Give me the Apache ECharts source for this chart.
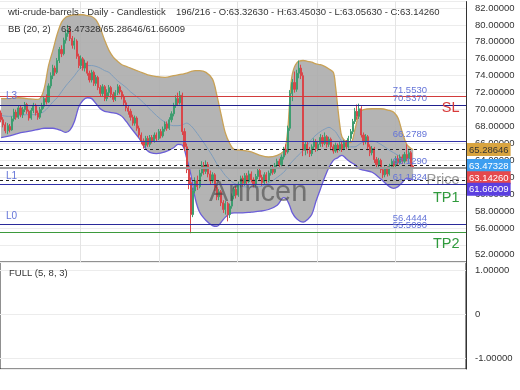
<!DOCTYPE html>
<html><head><meta charset="utf-8">
<script src="https://cdn.jsdelivr.net/npm/echarts@6/dist/echarts.min.js"></script>
<style>html,body{margin:0;padding:0;background:#fff}#c{width:520px;height:390px}</style>
</head><body><div id="c"></div>
<script>
// ---------- data ----------
const symbolName = 'wti-crude-barrels - Daily - Candlestick';
const barNo = 196, barTotal = 216;
const lastO = 63.32630, lastH = 63.45030, lastL = 63.05630, lastC = 63.14260;
const bbParams = 'BB (20, 2)';
const bbNow = [63.47328, 65.28646, 61.66009]; // mid / upper / lower
const totalSlots = 216;

const opens = [
69.6,68.8,68.2,67.5,68.0,67.6,68.9,69.7,69.1,70.2,
69.4,70.0,70.6,69.8,69.0,69.9,70.5,69.6,69.1,70.0,
70.4,71.3,70.9,72.8,74.0,74.9,74.4,75.8,77.1,76.6,
78.2,79.0,79.5,78.4,77.6,78.1,76.3,75.2,76.0,74.9,
75.5,74.3,73.5,74.4,73.1,73.8,72.6,71.9,72.7,71.3,
72.0,72.6,71.8,71.2,72.0,72.7,72.1,71.5,70.8,70.2,
69.8,69.1,68.4,69.0,67.8,67.0,66.3,65.8,66.6,65.9,
66.7,66.3,67.0,66.6,67.4,66.9,67.7,68.3,67.8,68.8,
69.5,70.5,71.3,70.8,71.7,67.4,65.6,62.9,61.4,57.6,
60.4,61.6,60.9,62.5,63.4,62.7,63.5,62.4,61.6,62.3,
60.8,59.7,60.3,59.0,58.2,58.9,57.6,58.6,59.8,60.6,
59.9,61.2,61.9,61.3,62.2,61.5,62.4,61.7,61.2,62.1,
62.8,62.0,61.4,62.3,61.6,62.5,63.1,62.6,63.4,63.9,
63.5,64.4,65.3,65.0,67.8,71.9,73.2,72.4,74.3,74.9,
74.0,65.2,65.9,65.2,64.8,65.6,66.2,65.4,65.9,66.7,
66.0,66.8,65.9,66.5,65.6,65.1,65.8,65.3,65.9,65.4,
66.1,65.6,66.6,67.4,68.6,69.8,69.2,70.1,67.0,66.2,
66.8,65.6,64.9,65.4,64.1,63.5,64.0,62.9,62.3,63.0,
62.4,63.3,63.9,63.4,64.2,63.7,64.4,63.9,64.7,64.2,
64.9,63.3263];
const closes = [
68.8,68.2,67.5,68.1,67.6,68.9,69.7,69.1,70.2,69.4,
70.0,70.6,69.8,69.0,69.9,70.5,69.6,69.1,70.0,70.4,
71.3,70.9,72.8,74.0,74.9,74.4,75.8,77.1,76.6,78.2,
79.0,79.5,78.4,77.6,78.1,76.3,75.2,76.0,74.9,75.5,
74.3,73.5,74.4,73.1,73.8,72.6,71.9,72.7,71.3,72.0,
72.6,71.8,71.2,72.0,72.7,72.1,71.5,70.8,70.2,69.8,
69.1,68.4,69.0,67.8,67.0,66.3,65.8,66.6,65.9,66.7,
66.3,67.0,66.6,67.4,66.9,67.7,68.3,67.8,68.8,69.5,
70.5,71.3,70.8,71.7,67.4,65.6,62.9,61.2,57.6,60.4,
61.6,60.9,62.5,63.4,62.7,63.5,62.4,61.6,62.3,60.8,
59.7,60.3,59.0,58.2,58.9,57.6,58.6,59.8,60.6,59.9,
61.2,61.9,61.3,62.2,61.5,62.4,61.7,61.2,62.1,62.8,
62.0,61.4,62.3,61.6,62.5,63.1,62.6,63.4,63.9,63.5,
64.4,65.3,65.0,67.8,71.9,73.2,72.4,74.3,74.9,74.0,
65.2,65.9,65.2,64.8,65.6,66.2,65.4,65.9,66.7,66.0,
66.8,65.9,66.5,65.6,65.1,65.8,65.3,65.9,65.4,66.1,
65.6,66.6,67.4,68.6,69.8,69.2,70.1,67.0,66.2,66.8,
65.6,64.9,65.4,64.1,63.5,64.0,62.9,62.3,63.0,62.4,
63.3,63.9,63.4,64.2,63.7,64.4,63.9,64.7,64.2,64.9,
63.3,63.1426];
const lows = [
68.5,67.9,67.2,67.1,67.3,67.5,68.6,68.8,68.9,69.1,
69.0,69.7,69.5,68.7,68.8,69.6,69.3,68.8,68.9,69.6,
70.1,70.6,70.8,72.5,73.6,74.0,74.2,75.5,76.2,76.4,
77.8,78.6,78.1,77.2,77.1,76.0,74.9,74.8,74.6,74.5,
74.0,73.2,73.2,72.8,72.8,72.3,71.5,71.6,71.0,71.0,
71.6,71.4,70.9,71.0,71.7,71.8,71.2,70.5,69.8,69.4,
68.7,68.1,68.1,67.5,66.7,65.9,65.4,65.5,65.6,65.6,
66.0,66.1,66.3,66.4,66.6,66.7,67.4,67.5,67.6,68.5,
69.2,70.2,70.5,70.6,67.0,65.1,62.5,60.6,55.4,57.3,
60.1,60.5,60.7,62.1,62.3,62.4,62.0,61.2,61.3,60.4,
59.3,59.3,58.6,57.8,57.6,56.8,57.2,58.3,59.4,59.5,
59.7,60.8,60.9,61.0,61.2,61.3,61.4,60.8,60.9,61.8,
61.7,61.0,61.1,61.3,61.4,62.2,62.3,62.4,63.1,63.1,
63.3,64.1,64.6,64.8,67.5,71.0,72.0,72.1,73.7,73.6,
64.5,64.6,64.8,64.4,64.5,65.3,65.0,65.1,65.6,65.6,
65.8,65.5,65.6,65.2,64.8,64.9,64.9,65.1,65.0,65.2,
65.3,65.4,66.3,67.1,68.3,68.8,68.9,66.7,65.8,65.9,
65.2,64.5,64.6,63.7,63.1,63.2,62.5,61.9,62.0,62.1,
62.2,63.0,63.0,63.2,63.4,63.5,63.6,63.7,63.9,63.9,
63.0,63.0563];
const highs = [
69.9,69.1,68.5,68.4,68.3,69.2,70.1,70.0,70.5,70.5,
70.3,70.9,70.8,70.0,70.2,70.8,70.7,69.9,70.3,70.8,
71.6,71.8,73.1,74.4,75.3,75.2,76.1,77.4,77.6,78.5,
79.3,80.0,79.8,78.7,78.5,78.3,76.6,76.4,76.2,75.9,
75.7,74.6,74.7,74.6,74.1,74.0,72.9,73.0,72.9,72.4,
72.9,72.8,72.1,72.3,73.0,72.9,72.3,71.8,71.1,70.5,
70.1,69.4,69.3,69.2,68.1,67.3,66.6,66.9,66.9,67.0,
67.0,67.3,67.3,67.7,67.7,68.0,68.6,68.6,69.1,69.8,
70.8,71.7,72.0,72.2,72.0,67.8,66.0,63.4,62.0,60.8,
62.0,62.2,62.9,63.9,63.8,64.0,63.8,62.8,62.6,62.5,
61.1,60.6,60.5,59.3,59.2,59.1,58.9,60.1,60.9,61.0,
61.5,62.2,62.2,62.5,62.5,62.8,62.7,62.0,62.4,63.1,
63.0,62.3,62.6,62.6,62.8,63.4,63.4,63.7,64.2,64.2,
64.7,65.6,65.9,68.1,72.3,73.6,74.5,74.7,75.8,75.3,
74.4,66.3,66.2,65.6,65.9,66.6,66.5,66.3,67.1,67.0,
67.3,67.0,66.8,66.7,65.9,66.1,66.0,66.2,66.2,66.4,
66.4,66.9,67.7,68.9,70.2,70.6,70.7,70.4,67.3,67.1,
67.0,65.9,65.7,65.6,64.4,64.3,64.2,63.2,63.3,63.3,
63.6,64.2,64.1,64.5,64.6,64.7,64.7,65.0,65.9,65.2,
65.1,63.4503];

// Bollinger band lines at these bar positions
const bbIdx = [0,4,8,12,16,18,20,22,24,26,28,30,32,34,36,38,40,42,44,46,48,50,52,54,56,58,60,64,68,72,76,80,82,84,86,88,90,92,95,98,100,102,104,106,108,112,116,120,124,128,131,132,133,134,135,137,140,142,144,146,148,150,152,154,155,156,157,158,160,162,164,166,168,172,176,180,182,184,186,188,190,191];
const bbUpper = [71.3,71.3,71.4,71.3,71.2,71.3,72.5,75.2,77.0,78.9,80.3,80.9,81.1,81.2,81.2,81.2,81.1,81.0,80.6,79.6,78.2,77.0,76.2,75.7,75.3,75.1,74.9,74.5,74.1,73.9,73.8,74.0,74.1,74.2,74.3,74.5,74.6,74.6,74.4,73.6,71.7,69.4,67.2,66.0,65.3,65.2,65.0,64.6,64.4,64.6,65.1,65.8,68.0,71.8,74.2,75.5,75.8,75.7,75.6,75.4,75.3,75.1,74.8,74.4,72.8,70.4,68.2,66.8,66.2,66.1,67.6,69.6,70.0,70.1,70.1,69.9,69.7,69.0,67.3,65.9,65.4,65.28646];
const bbMid = [69.3,69.2,69.3,69.4,69.4,69.5,69.8,70.3,70.9,71.4,72.1,72.8,73.4,74.0,74.7,75.1,75.2,75.2,75.1,74.9,74.6,74.4,73.9,73.4,73.0,72.6,72.1,71.3,70.3,69.3,68.5,68.1,68.1,68.2,68.4,68.1,67.5,66.8,65.7,64.5,63.6,62.9,62.2,61.7,61.3,60.9,60.85,60.9,61.3,62.0,62.6,62.9,63.2,63.6,63.9,64.4,65.2,65.8,66.5,67.0,67.4,67.7,67.9,67.6,67.4,67.0,66.6,66.2,65.8,65.6,65.6,65.9,66.2,66.3,65.9,65.2,64.9,64.6,64.3,64.0,63.7,63.47328];
const bbLower = [66.7,66.9,67.2,67.4,67.6,67.7,67.8,67.8,67.8,67.7,67.5,67.3,67.6,68.6,70.3,71.1,71.4,71.3,70.7,70.1,69.8,69.7,69.6,69.5,69.2,68.6,67.9,66.6,65.1,64.8,65.0,65.5,65.9,65.8,64.3,62.3,59.5,57.9,56.9,56.3,56.2,56.7,57.3,57.7,57.8,57.8,57.9,58.0,58.2,58.7,59.6,59.5,59.1,58.5,57.8,57.1,56.7,57.0,57.6,59.2,60.6,62.0,63.2,64.0,64.2,64.3,64.5,64.6,64.2,63.8,63.5,63.0,62.85,62.6,61.8,60.9,60.7,60.9,61.4,61.9,61.8,61.66009];

// Trade levels
const levelSL = 71.5530, levelL3 = 70.5370, levelL2 = 66.2789, levelMidPx = 63.1290, levelL1 = 61.1824, levelL0 = 56.4444, levelTP2 = 55.5090;

// Axis ticks
const priceMin = 52, priceMax = 82.76, priceStep = 2;
const oscMin = -1.25, oscMax = 1.2;
const oscLabel = 'FULL (5, 8, 3)';
const watermark = 'Arincen';

// ---------- chart ----------
const FF = '"Liberation Sans", Arial, Helvetica, sans-serif';
const LC = '#6474d8';
const cats = Array.from({length: totalSlots}, (_, i) => String(i));
const candleData = opens.map((o, i) => [o, closes[i], lows[i], highs[i]]);
const lowerPts = bbIdx.map((x, k) => [x, bbLower[k]]);
const widthPts = bbIdx.map((x, k) => [x, +(bbUpper[k] - bbLower[k]).toFixed(5)]);
const upperPts = bbIdx.map((x, k) => [x, bbUpper[k]]);
const midPts = bbIdx.map((x, k) => [x, bbMid[k]]);
const gridBars = [37, 74, 110, 147, 183];
const SM = 0.35;

function valueLine(v, color, txt) {
  return { yAxis: v, lineStyle: { color: color, width: 1.2, type: 'solid' },
    label: { show: true, position: 'insideEndTop', distance: [39, 1.5], formatter: () => txt,
      color: LC, fontSize: 9.5, fontFamily: FF } };
}
function sideText(v, txt, color, pos, dist, size) {
  return { yAxis: v, lineStyle: { color: 'rgba(0,0,0,0)', width: 0 },
    label: { show: true, position: pos, distance: dist, formatter: () => txt,
      color: color, fontSize: size, fontFamily: FF } };
}
function tagLine(v, lineColor, lineType, bg, fg, shift) {
  return { yAxis: v, lineStyle: { color: lineColor, width: 1, type: lineType },
    label: { show: true, position: 'end', distance: 1, padding: [shift * 2, 0, 0, 0],
      formatter: () => '{t|' + v.toFixed(5) + '}',
      rich: { t: { backgroundColor: bg, color: fg, padding: [2, 2, 1, 2], fontSize: 9.5, fontFamily: FF } } } };
}

const chart = echarts.init(document.getElementById('c'));
chart.setOption({
  animation: false,
  textStyle: { fontFamily: FF },
  title: [
    { text: symbolName, left: 8, top: 7.5, padding: 0, textStyle: { fontSize: 9.5, fontWeight: 'normal', color: '#333', fontFamily: FF } },
    { text: barNo + '/' + barTotal + ' - O:' + lastO.toFixed(5) + ' - H:' + lastH.toFixed(5) + ' - L:' + lastL.toFixed(5) + ' - C:' + lastC.toFixed(5),
      left: 176, top: 7.5, padding: 0, textStyle: { fontSize: 9.5, fontWeight: 'normal', color: '#333', fontFamily: FF } },
    { text: bbParams, left: 8, top: 24.5, padding: 0, textStyle: { fontSize: 9.5, fontWeight: 'normal', color: '#333', fontFamily: FF } },
    { text: bbNow.map(v => v.toFixed(5)).join('/'), left: 61, top: 24.5, padding: 0, textStyle: { fontSize: 9.5, fontWeight: 'normal', color: '#333', fontFamily: FF } },
    { text: oscLabel, left: 9, top: 268, padding: 0, textStyle: { fontSize: 9.5, fontWeight: 'normal', color: '#333', fontFamily: FF } }
  ],
  graphic: [
    { type: 'text', left: 209, top: 178, z: 50, silent: true,
      style: { text: watermark, font: '29px ' + FF, fill: 'rgba(70,70,70,0.6)' } }
  ],
  grid: [
    { left: 0, top: 0, width: 466, height: 262, show: false },
    { left: 0, top: 262, width: 466, height: 107, show: true, borderColor: '#222', borderWidth: 1, backgroundColor: 'transparent' }
  ],
  xAxis: [
    { type: 'category', data: cats, gridIndex: 0, boundaryGap: true,
      axisLine: { show: false }, axisTick: { show: false }, axisLabel: { show: false },
      splitLine: { show: true, interval: (i) => gridBars.indexOf(i) >= 0, lineStyle: { color: '#e4e4e4', width: 1 } } },
    { type: 'category', data: cats, gridIndex: 1, boundaryGap: true,
      axisLine: { show: false }, axisTick: { show: false }, axisLabel: { show: false }, splitLine: { show: false } }
  ],
  yAxis: [
    { type: 'value', gridIndex: 0, position: 'right', min: priceMin, max: priceMax, interval: priceStep,
      axisLine: { show: true, lineStyle: { color: '#333', width: 1 } }, axisTick: { show: false },
      splitLine: { show: true, lineStyle: { color: '#ececec', width: 1 } },
      axisLabel: { margin: 9, color: '#333', fontSize: 9.5, lineHeight: 16, fontFamily: FF, showMaxLabel: false, showMinLabel: true, hideOverlap: false,
        formatter: v => Math.abs(v - priceMin) < 1e-6 ? v.toFixed(5) + '\n' : v.toFixed(5) } },
    { type: 'value', gridIndex: 1, position: 'right', min: oscMin, max: oscMax, minInterval: 1, maxInterval: 1,
      axisLine: { show: true, lineStyle: { color: '#333', width: 1 } }, axisTick: { show: false },
      splitLine: { show: true, lineStyle: { color: '#ececec', width: 1 } },
      axisLabel: { margin: 9, color: '#333', fontSize: 9.5, fontFamily: FF, showMaxLabel: false, showMinLabel: false,
        formatter: v => v === 0 ? '0' : v.toFixed(5) } }
  ],
  series: [
    { name: 'bbBase', type: 'line', xAxisIndex: 0, yAxisIndex: 0, data: lowerPts, stack: 'bb', smooth: SM,
      symbol: 'none', lineStyle: { opacity: 0 }, silent: true, z: 1 },
    { name: 'bbFill', type: 'line', xAxisIndex: 0, yAxisIndex: 0, data: widthPts, stack: 'bb', smooth: SM,
      symbol: 'none', lineStyle: { opacity: 0 }, areaStyle: { color: '#aaaaaa', opacity: 0.88 }, silent: true, z: 1 },
    { name: 'bbMid', type: 'line', xAxisIndex: 0, yAxisIndex: 0, data: midPts, smooth: SM,
      symbol: 'none', lineStyle: { color: '#7d9cbc', width: 1 }, silent: true, z: 2 },
    { name: 'bbUpper', type: 'line', xAxisIndex: 0, yAxisIndex: 0, data: upperPts, smooth: SM,
      symbol: 'none', lineStyle: { color: '#c9a257', width: 1.3 }, silent: true, z: 2 },
    { name: 'bbLower', type: 'line', xAxisIndex: 0, yAxisIndex: 0, data: lowerPts, smooth: SM,
      symbol: 'none', lineStyle: { color: '#6b5ed8', width: 1.3 }, silent: true, z: 2 },
    { name: 'price', type: 'candlestick', xAxisIndex: 0, yAxisIndex: 0, data: candleData, barWidth: 1.6,
      itemStyle: { color: '#3e9d70', color0: '#d9464a', borderColor: '#3e9d70', borderColor0: '#d9464a', borderWidth: 1 },
      silent: true, z: 3 },
    { name: 'levels', type: 'line', xAxisIndex: 0, yAxisIndex: 0, data: [], z: 4, silent: true,
      markLine: { silent: true, symbol: ['none', 'none'], animation: false,
        data: [
          valueLine(levelSL, '#d23c3c', levelSL.toFixed(4)),
          sideText(levelSL, 'SL', '#d83a3a', 'insideEndBottom', [6.5, 4.5], 14.5),
          valueLine(levelL3, '#20208f', levelL3.toFixed(4)),
          sideText(levelL3, 'L3', LC, 'insideStartTop', [6, 3.5], 10),
          valueLine(levelL2, '#3535a8', levelL2.toFixed(4)),
          valueLine(levelMidPx, '#9a9a9a', levelMidPx.toFixed(4)),
          valueLine(levelL1, '#3030a8', levelL1.toFixed(4)),
          sideText(levelL1, 'L1', LC, 'insideStartTop', [6, 3.5], 10),
          sideText(levelL1, 'TP1', '#2f9a3c', 'insideEndBottom', [6.5, 6], 14.5),
          sideText(levelMidPx, 'Price', 'rgba(110,110,110,0.7)', 'insideEndBottom', [6.5, 5], 14.5),
          valueLine(levelL0, '#2a2a9a', levelL0.toFixed(4)),
          sideText(levelL0, 'L0', LC, 'insideStartTop', [6, 3.5], 10),
          valueLine(levelTP2, '#3d9a3d', levelTP2.toFixed(4)),
          sideText(levelTP2, 'TP2', '#2f9a3c', 'insideEndBottom', [6.5, 4.5], 14.5),
          tagLine(bbNow[1], '#222', [3, 3], '#d8a440', '#333', 0),
          tagLine(bbNow[0], '#222', [3, 3], '#3d9ef0', '#fff', 0.6),
          tagLine(lastC, '#9a9a9a', 'solid', '#e5484d', '#fff', 10),
          tagLine(bbNow[2], '#222', [3, 3], '#5b3fe0', '#fff', 9)
        ] } },
    { name: 'osc', type: 'line', xAxisIndex: 1, yAxisIndex: 1, data: [], silent: true }
  ]
});
</script>
</body></html>
